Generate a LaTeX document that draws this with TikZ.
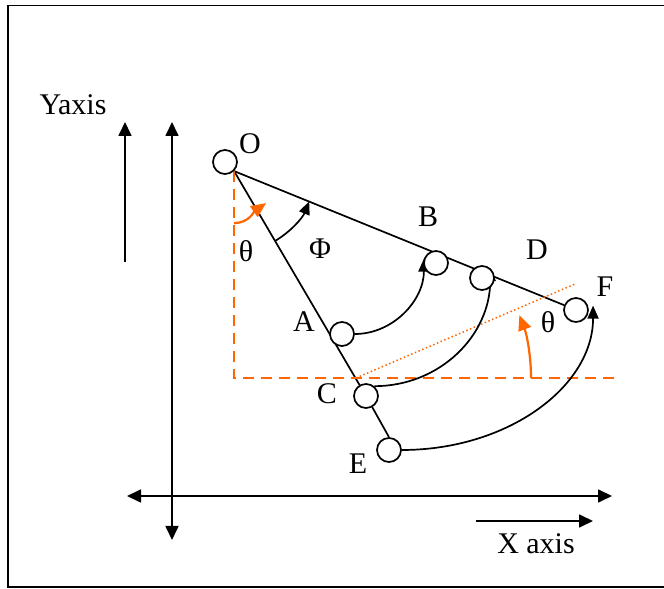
\documentclass[tikz,border=0pt]{standalone}
\usepackage{fontspec}
\setmainfont{Liberation Serif}
\usetikzlibrary{arrows.meta,backgrounds,calc}
\definecolor{accent}{HTML}{FF6600}
\tikzset{
  >={Triangle[length=14pt,width=13pt]},
  axis/.style={<->,line width=1.7pt},
  pointer/.style={->,line width=1.7pt},
  link/.style={line width=1.7pt},
  swing/.style={-{Triangle[length=13pt,width=11pt]},line width=1.7pt},
  joint/.style={circle,draw,line width=1.7pt,fill=white,minimum size=24pt,inner sep=0pt},
  tag/.style={font=\fontsize{30}{31}\selectfont,inner sep=0pt},
  guide/.style={draw=accent,line width=1.9pt,dash pattern=on 11pt off 7pt},
  ray/.style={draw=accent,line width=1.5pt,dash pattern=on 1.5pt off 2.5pt},
  turn/.style={-{Triangle[length=15pt,width=13pt]},draw=accent,line width=2.2pt}
}
\begin{document}
\begin{tikzpicture}[x=1pt,y=1pt]
  \useasboundingbox (0,0) rectangle (664,589);
  % frame, open on the right
  \draw[link] (664,583.5) -- (8,583.5) -- (8,2) -- (664,2);

  % axes
  \draw[axis] (172,49) -- (172,467);
  \draw[axis] (127,93) -- (612,93);
  \draw[pointer] (125,327) -- (125,467);
  \draw[pointer] (476,68) -- (593,68);
  \node[tag] (ylab) at (73,484) {Yaxis};
  \node[tag] (xlab) at (536,45) {X axis};

  % joints
  \node[joint] (O) at (225,427) {};
  \node[joint] (A) at (342,255) {};
  \node[joint] (B) at (436,326) {};
  \node[joint] (C) at (366,193) {};
  \node[joint] (D) at (482,311) {};
  \node[joint] (E) at (389,139) {};
  \node[joint] (F) at (576,279) {};
  \coordinate (pc) at (356,211);

  \node[tag] (Olab) at (250,445) {O};
  \node[tag] (Alab) at (304,267) {A};
  \node[tag] (Blab) at (428,372) {B};
  \node[tag] (Clab) at (327,195) {C};
  \node[tag] (Dlab) at (537,339) {D};
  \node[tag] (Elab) at (358,125) {E};
  \node[tag] (Flab) at (605,302) {F};
  \node[tag] (th1) at (246,338) {θ};
  \node[tag] (phi) at (320,340) {Φ};
  \node[tag] (th2) at (548,267) {θ};

  \begin{scope}[on background layer]
    \draw[link] (O.-45) -- (F);
    \draw[link] (O.-45) -- (C);
    \draw[link] (C) -- (E.north);
    \draw[guide] (O.-45) |- (620,211);
    \draw[ray] (pc) -- (575,305);
    \draw[turn] ($(pc)+(175,0)$) arc (0:21:175);
    \draw[turn] ($(O.-45)+(0,-52)$) to[out=0,in=-145] ($(O.-45)+(32,-32)$);
    \draw[swing] ($(O.-45)+(-59.6:81)$) arc (-59.6:-22:81);
    \draw[swing] (A.east) .. controls +(38,0) and +(0,-42) .. (B.160);
    \draw[swing] (C.50) .. controls +(66,0) and +(0,-67) .. (D.50);
    \draw[swing] (E.east) .. controls +(106,0) and +(0,-81) .. ([xshift=5pt]F.20);
  \end{scope}
\end{tikzpicture}
\end{document}
